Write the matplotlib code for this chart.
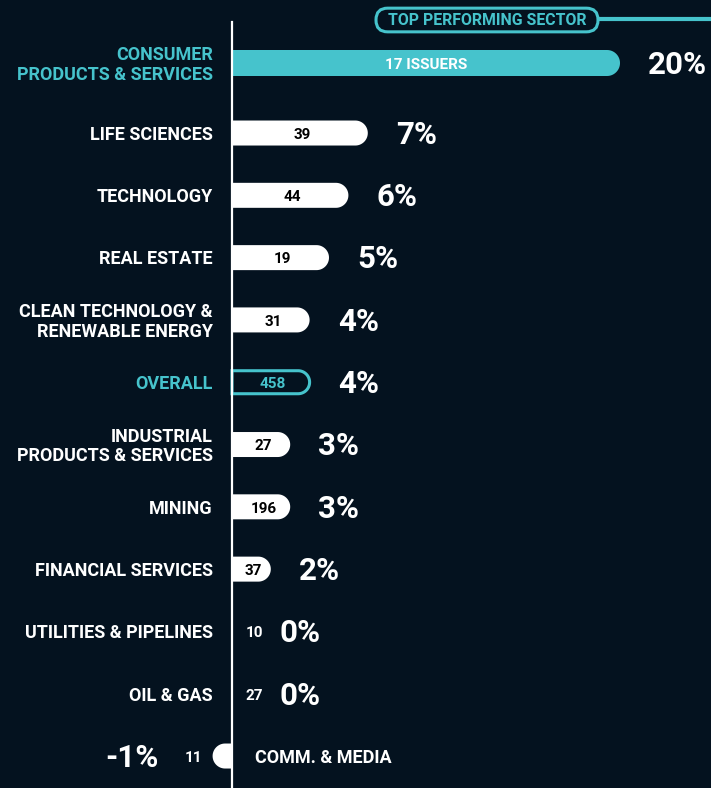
import matplotlib.pyplot as plt
import numpy as np
from matplotlib.patches import Polygon, FancyBboxPatch
from matplotlib import font_manager

sectors = ["CONSUMER\nPRODUCTS & SERVICES", "LIFE SCIENCES", "TECHNOLOGY", "REAL ESTATE",
           "CLEAN TECHNOLOGY &\nRENEWABLE ENERGY", "OVERALL", "INDUSTRIAL\nPRODUCTS & SERVICES",
           "MINING", "FINANCIAL SERVICES", "UTILITIES & PIPELINES", "OIL & GAS", "COMM. & MEDIA"]
returns = [20, 7, 6, 5, 4, 4, 3, 3, 2, 0, 0, -1]
issuers = ["17 ISSUERS", "39", "44", "19", "31", "458", "27", "196", "37", "10", "27", "11"]

BG = "#04121f"
TEAL = "#46c3cc"
WHITE = "#ffffff"

names = {f.name for f in font_manager.fontManager.ttflist}
FONT = "Roboto" if "Roboto" in names else "DejaVu Sans"
plt.rcParams["font.family"] = [FONT, "DejaVu Sans"]

W, H = 711, 788
fig = plt.figure(figsize=(W / 100, H / 100), dpi=100, facecolor=BG)
ax = fig.add_axes([0, 0, 1, 1])
ax.set_facecolor(BG)

# scale: pixels per percent and per row
px_x = 19.4
px_y = 62.3
x0_px, y0_px = 232, 63
ax.set_xlim(-x0_px / px_x, (W - x0_px) / px_x)
ax.set_ylim((H - y0_px) / px_y, -y0_px / px_y)
ax.axis("off")

ypos = [0] + [1.124 + k for k in range(len(sectors) - 1)]


def rounded_bar(v, y, h_px, **kw):
    # bar from 0 to v with a semicircle cap at the far end
    if v == 0:
        return
    r_px = h_px / 2
    rx, ry = r_px / px_x, r_px / px_y
    s = np.sign(v)
    cx = v - s * rx
    t = np.linspace(-np.pi / 2, np.pi / 2, 40)
    cap = np.column_stack([cx + s * rx * np.cos(t), y + s * ry * np.sin(t)])
    pts = np.vstack([[(0, y - s * ry)], cap, [(0, y + s * ry)]])
    ax.add_patch(Polygon(pts, closed=True, **kw))


lab_fs = 13
num_fs = 11
pct_fs = 22.5
dy = 0.03  # small downward nudge for caps-only text
for i, (name, v, n) in enumerate(zip(sectors, returns, issuers)):
    y = ypos[i]
    if i == 0:
        rounded_bar(v, y, 26, facecolor=TEAL, edgecolor="none")
        ax.text(v / 2, y + dy, n, color=WHITE, fontsize=num_fs, fontweight="bold", ha="center", va="center")
        lab_col = TEAL
    elif name == "OVERALL":
        rounded_bar(v, y, 23, facecolor=BG, edgecolor=TEAL, lw=2.2)
        ax.text(v / 2 + 0.1, y + dy, n, color=TEAL, fontsize=num_fs, fontweight="bold", ha="center", va="center")
        lab_col = TEAL
    else:
        rounded_bar(v, y, 25, facecolor=WHITE, edgecolor="none")
        lab_col = WHITE
        if v > 0:
            ax.text(v / 2 + 0.12, y + dy, n, color="black", fontsize=num_fs, fontweight="bold", ha="center", va="center")
        elif v == 0:
            ax.text(1.15, y + dy, n, color=WHITE, fontsize=num_fs, fontweight="bold", ha="center", va="center")
        else:
            ax.text(v - 1.0, y + dy, n, color=WHITE, fontsize=num_fs, fontweight="bold", ha="center", va="center")

    if v > 0:
        ax.text(v + 1.45, y + dy, f"{v}%", color=WHITE, fontsize=pct_fs, fontweight="bold", ha="left", va="center")
    elif v == 0:
        ax.text(2.45, y + dy, f"{v}%", color=WHITE, fontsize=pct_fs, fontweight="bold", ha="left", va="center")
    else:
        ax.text(-3.8, y + dy, f"{v}%", color=WHITE, fontsize=pct_fs, fontweight="bold", ha="right", va="center")

    if v >= 0:
        ax.text(-0.98, y + dy, name, color=lab_col, fontsize=lab_fs, fontweight="bold", ha="right", va="center",
                linespacing=1.12)
    else:
        ax.text(1.18, y + dy, name, color=lab_col, fontsize=lab_fs, fontweight="bold", ha="left", va="center")

# vertical axis line
ax.plot([0, 0], [(22 - y0_px) / px_y, (H - y0_px) / px_y], color=WHITE, lw=1.6, zorder=5)

# top performing badge
bx0, bx1 = (376 - x0_px) / px_x, (598 - x0_px) / px_x
by = (20 - y0_px) / px_y
ax.plot([bx1, (W - x0_px) / px_x], [by - 0.02, by - 0.02], color=TEAL, lw=3, solid_capstyle="butt")
badge = FancyBboxPatch((bx0, by - 0.19), bx1 - bx0, 0.38,
                       boxstyle="round,pad=0,rounding_size=0.6", mutation_aspect=px_x / px_y,
                       facecolor=BG, edgecolor=TEAL, lw=2.2, zorder=6)
ax.add_patch(badge)
ax.text((bx0 + bx1) / 2, by + 0.01, "TOP PERFORMING SECTOR", color=TEAL, fontsize=11.4, fontweight="bold",
        ha="center", va="center", zorder=7)

fig.savefig("out.png", dpi=100, facecolor=BG)
